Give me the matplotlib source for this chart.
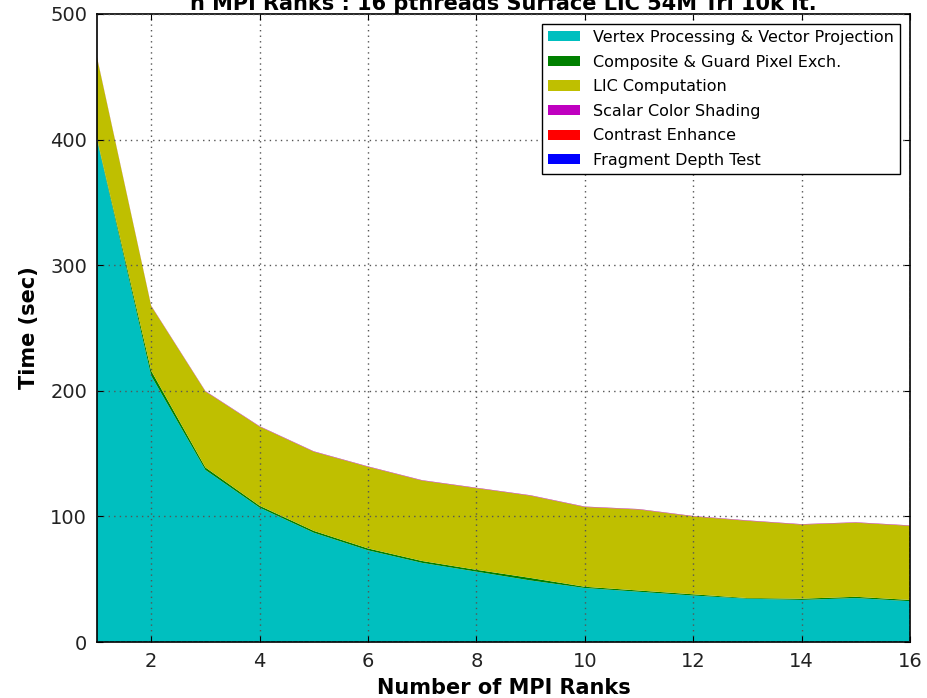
import matplotlib
matplotlib.use("Agg")
import matplotlib.pyplot as plt
from matplotlib.patches import Rectangle

# Timings per stage (sec)
ranks = [1, 2, 3, 4, 5, 6, 7, 8, 9, 10, 11, 12, 13, 14, 15, 16]
vertex = [400, 212, 137, 107, 87, 73, 63, 56, 49, 43, 40, 37, 34.5, 33.5, 35, 32.5]
composite = [1, 4, 2, 1.5, 1.5, 1.5, 1.5, 1.5, 2, 1, 1, 1, 0.5, 1, 1, 1]
lic = [64.5, 51.5, 60.5, 63, 63, 65, 64, 65, 65.5, 63.5, 64.5, 62, 61.5, 59, 59, 59]
shading = [0.2] * 16
contrast = [0.1] * 16
depth = [0.05] * 16

labels = ["Vertex Processing & Vector Projection", "Composite & Guard Pixel Exch.",
          "LIC Computation", "Scalar Color Shading", "Contrast Enhance",
          "Fragment Depth Test"]
colors = ["#00bfbf", "#008000", "#bfbf00", "#bf00bf", "#ff0000", "#0000ff"]

fig = plt.figure(figsize=(9.27, 6.98), dpi=100)
ax = fig.add_axes([0.1046, 0.0802, 0.8771, 0.8998])

ax.stackplot(ranks, vertex, composite, lic, shading, contrast, depth,
             colors=colors, linewidth=0)

ax.set_xlim(1, 16)
ax.set_ylim(0, 500)
ax.set_xticks([2, 4, 6, 8, 10, 12, 14, 16])
ax.set_yticks([0, 100, 200, 300, 400, 500])
ax.tick_params(direction="in", top=True, right=True, labelsize=14, length=4, pad=7,
               labelcolor="#222222")
ax.grid(True, linestyle=(0, (1, 3)), color="#555555", linewidth=1.0)
ax.set_axisbelow(False)
for sp in ax.spines.values():
    sp.set_linewidth(1.2)

ax.set_xlabel("Number of MPI Ranks", fontsize=15, fontweight="bold", labelpad=5)
ax.set_ylabel("Time (sec)", fontsize=15, fontweight="bold", labelpad=8)
ax.set_title("n MPI Ranks : 16 pthreads Surface LIC 54M Tri 10k It.",
             fontsize=15, fontweight="bold", pad=3)

handles = [Rectangle((0, 0), 1, 1, facecolor=c, edgecolor="none") for c in colors]
leg = ax.legend(handles, labels, loc="upper right", fontsize=11.5, fancybox=False,
                framealpha=1, edgecolor="black", borderaxespad=0.6,
                handlelength=2.0, labelspacing=0.6, handleheight=0.6)
leg.get_frame().set_linewidth(1.0)

plt.savefig("out.png", dpi=100)
